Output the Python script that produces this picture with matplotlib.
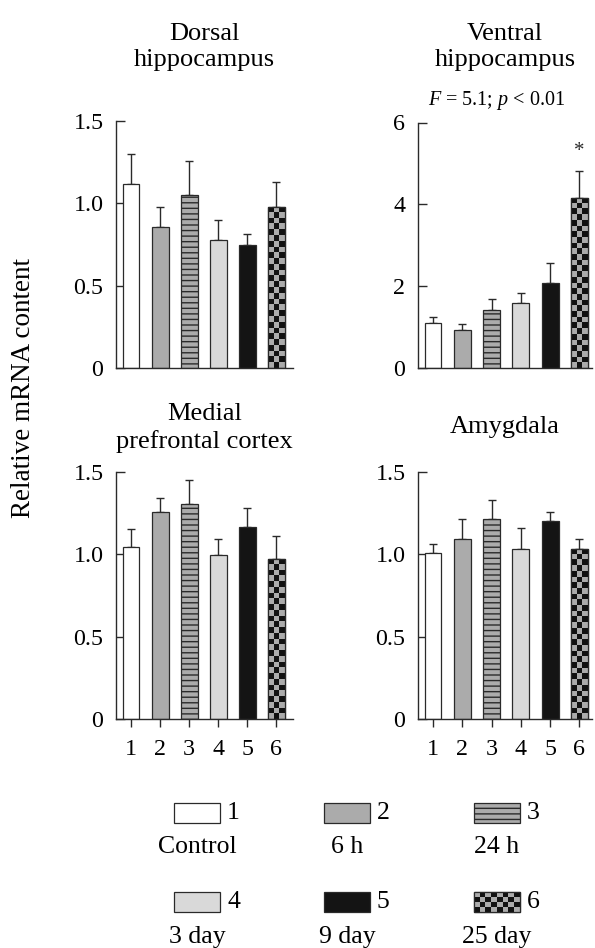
import numpy as np
import matplotlib
matplotlib.use("Agg")
import matplotlib.pyplot as plt
from matplotlib.colors import ListedColormap
from matplotlib.patches import Rectangle

plt.rcParams['font.family'] = ['Liberation Serif', 'DejaVu Serif']
plt.rcParams['mathtext.fontset'] = 'custom'
plt.rcParams['mathtext.rm'] = 'Liberation Serif'
plt.rcParams['mathtext.it'] = 'Liberation Serif:italic'
plt.rcParams['hatch.linewidth'] = 1.0

# ---------------- data ----------------
groups = [1, 2, 3, 4, 5, 6]
group_labels = ['Control', '6 h', '24 h', '3 day', '9 day', '25 day']

dorsal_mean = [1.12, 0.855, 1.05, 0.775, 0.745, 0.98]
dorsal_err = [0.18, 0.125, 0.205, 0.125, 0.07, 0.15]

ventral_mean = [1.11, 0.94, 1.42, 1.60, 2.09, 4.15]
ventral_err = [0.15, 0.13, 0.28, 0.25, 0.47, 0.66]

mpfc_mean = [1.045, 1.256, 1.304, 0.994, 1.168, 0.974]
mpfc_err = [0.105, 0.085, 0.145, 0.10, 0.11, 0.137]

amyg_mean = [1.01, 1.095, 1.216, 1.03, 1.204, 1.03]
amyg_err = [0.055, 0.12, 0.115, 0.127, 0.052, 0.065]

titles = ['Dorsal\nhippocampus', 'Ventral\nhippocampus',
          'Medial\nprefrontal cortex', 'Amygdala']
ylims = [1.5, 6, 1.5, 1.5]
yticks = [[0, 0.5, 1.0, 1.5], [0, 2, 4, 6], [0, 0.5, 1.0, 1.5], [0, 0.5, 1.0, 1.5]]
yticklabels = [['0', '0.5', '1.0', '1.5'], ['0', '2', '4', '6'],
               ['0', '0.5', '1.0', '1.5'], ['0', '0.5', '1.0', '1.5']]

# ---------------- styles ----------------
W, H = 595, 948
DARK = '#2a2a2a'
GRAY = '#ababab'
faces = ['white', GRAY, GRAY, '#d9d9d9', '#141414', GRAY]
hatches = ['', '', '---', '', '', '']
checker_cmap = ListedColormap([GRAY, '#111111'])
SQ = 5.7  # checker square size in px
TICK_FS = 17.3
TITLE_FS = 19
LEG_FS = 18.5

fig = plt.figure(figsize=(W / 100, H / 100), dpi=100)


def px_rect(x0, y0, x1, y1):
    return [x0 / W, 1 - y1 / H, (x1 - x0) / W, (y1 - y0) / H]


axes_rects = [px_rect(116, 121, 293, 368), px_rect(418, 122.5, 592, 368.3),
              px_rect(116, 471.7, 293, 719.3), px_rect(418, 471.7, 592, 719.3)]
xlims = [(0.48, 6.57), (0.49, 6.43), (0.48, 6.57), (0.49, 6.43)]
title_y = [47, 47, 428, 427]
means = [dorsal_mean, ventral_mean, mpfc_mean, amyg_mean]
errs = [dorsal_err, ventral_err, mpfc_err, amyg_err]

BW = 0.575

for i in range(4):
    ax = fig.add_axes(axes_rects[i])
    ax.set_xlim(*xlims[i])
    ax.set_ylim(0, ylims[i])
    ax.set_autoscale_on(False)
    bars = ax.bar(groups, means[i], width=BW, color=faces, edgecolor=DARK,
                  linewidth=0.9, hatch=hatches, zorder=2)
    ax.errorbar(groups, means[i], yerr=[np.zeros(6), errs[i]], fmt='none',
                ecolor=DARK, elinewidth=1.0, capsize=2.6, capthick=1.0, zorder=1.5)
    # checkerboard for group 6
    b = bars[5]
    x0, w, h = b.get_x(), b.get_width(), b.get_height()
    p0 = ax.transData.transform((x0, 0))
    p1 = ax.transData.transform((x0 + w, h))
    ncol = max(1, int(round((p1[0] - p0[0]) / SQ)))
    nrow = max(1, int(round((p1[1] - p0[1]) / SQ)))
    board = np.indices((nrow, ncol)).sum(axis=0) % 2
    im = ax.imshow(board, cmap=checker_cmap, extent=[x0, x0 + w, 0, h],
                   origin='lower', aspect='auto', interpolation='nearest', zorder=2.1)
    im.set_clip_path(b)
    ax.bar([groups[5]], [means[i][5]], width=BW, facecolor='none', edgecolor=DARK,
           linewidth=0.9, zorder=2.2)

    for s in ['top', 'right']:
        ax.spines[s].set_visible(False)
    for s in ['left', 'bottom']:
        ax.spines[s].set_linewidth(1.0)
        ax.spines[s].set_color(DARK)
    ax.set_yticks(yticks[i])
    ax.set_yticklabels(yticklabels[i])
    ax.tick_params(axis='y', direction='in', length=6.5, width=1.0, color=DARK,
                   labelsize=TICK_FS, pad=9)
    if i < 2:
        ax.tick_params(axis='x', bottom=False, labelbottom=False)
    else:
        ax.set_xticks(groups)
        ax.set_xticklabels([str(g) for g in groups])
        ax.tick_params(axis='x', direction='out', length=6, width=1.0, color=DARK,
                       labelsize=TICK_FS, pad=8)
    if i == 1:
        ax.text(groups[5], means[i][5] + errs[i][5] + 0.25, '*', ha='center',
                va='bottom', fontsize=15, color=DARK)

    r = axes_rects[i]
    cx = r[0] + r[2] / 2
    fig.text(cx, 1 - title_y[i] / H, titles[i], ha='center', va='center',
             fontsize=TITLE_FS, linespacing=1.25)
    if i == 1:
        fig.text(cx - 8 / W, 1 - 100 / H, r'$F$ = 5.1; $p$ < 0.01', ha='center',
                 va='center', fontsize=14.5)

fig.text(24 / W, 1 - 388 / H, 'Relative mRNA content', rotation=90, ha='center',
         va='center', fontsize=19.5)

# legend
lax = fig.add_axes([0, 0, 1, 1], zorder=-1)
lax.set_xlim(0, W)
lax.set_ylim(H, 0)
lax.axis('off')
lax.set_autoscale_on(False)
col_x = [174, 324, 474]
row_y = [803, 892]
label_y = [847, 937]
PW, PH = 46, 20
for k in range(6):
    r, c = divmod(k, 3)
    x0, y0 = col_x[c], row_y[r]
    rect = Rectangle((x0, y0), PW, PH, facecolor=faces[k], edgecolor=DARK,
                     linewidth=0.9, hatch=hatches[k] or None)
    lax.add_patch(rect)
    if k == 5:
        nr, nc = int(round(PH / SQ)), int(round(PW / SQ))
        board = np.indices((nr, nc)).sum(axis=0) % 2
        im = lax.imshow(board, cmap=checker_cmap, extent=[x0, x0 + PW, y0 + PH, y0],
                        aspect='auto', interpolation='nearest', zorder=2)
        im.set_clip_path(rect)
        lax.add_patch(Rectangle((x0, y0), PW, PH, facecolor='none', edgecolor=DARK,
                                linewidth=0.9, zorder=3))
    lax.text(x0 + PW + 7, y0 + PH / 2, str(groups[k]), ha='left', va='center',
             fontsize=LEG_FS)
    lax.text(x0 + PW / 2, label_y[r], group_labels[k], ha='center', va='center',
             fontsize=LEG_FS)

fig.savefig('out.png', dpi=100)
